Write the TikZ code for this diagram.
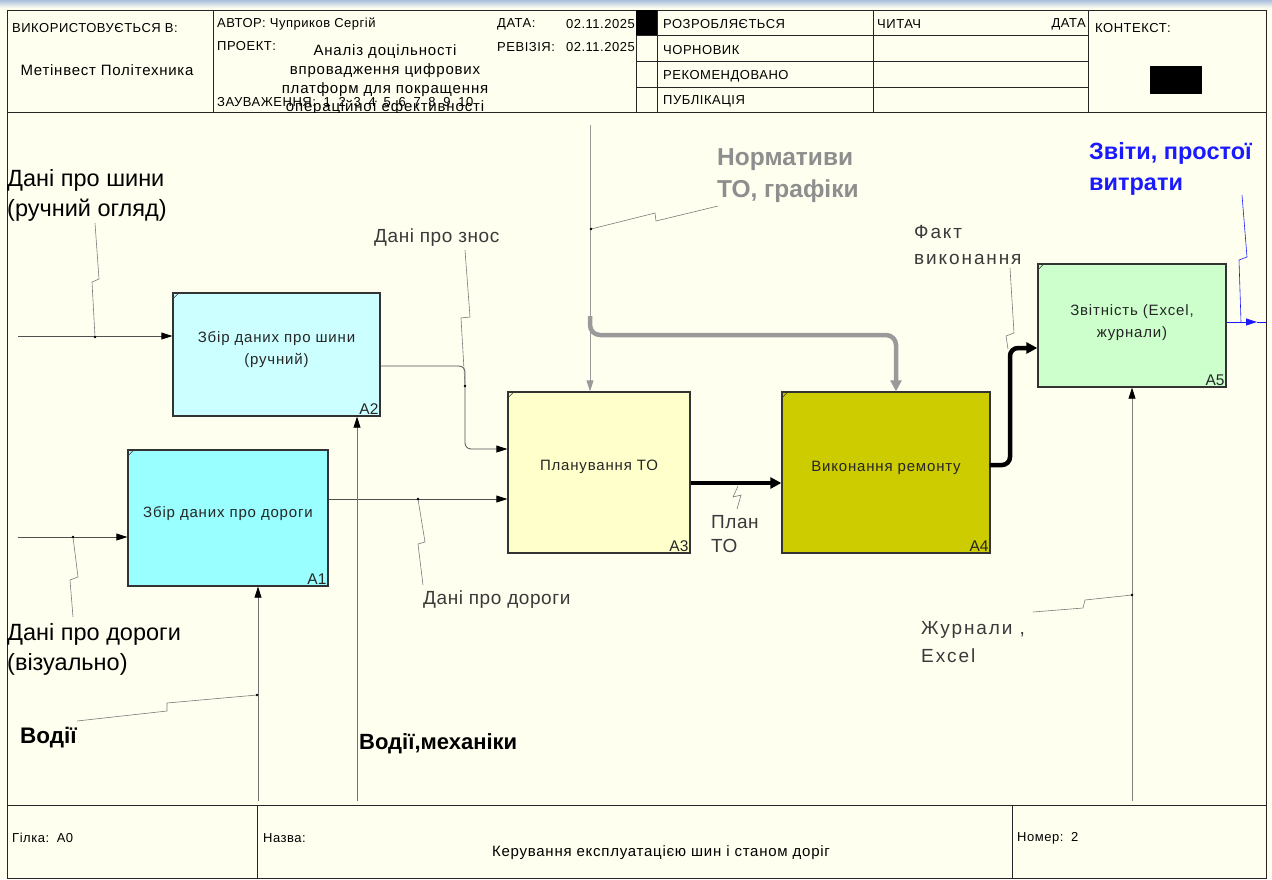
\documentclass[tikz,border=0pt]{standalone}
\usepackage{fontspec}
\setmainfont{Liberation Sans}
\usetikzlibrary{arrows.meta}
\definecolor{bgc}{HTML}{FFFFF0}
\definecolor{ca1}{HTML}{99FFFF}
\definecolor{ca2}{HTML}{CCFFFF}
\definecolor{ca3}{HTML}{FFFFCC}
\definecolor{ca4}{HTML}{CCCC00}
\definecolor{ca5}{HTML}{CCFFCC}
\definecolor{lbl}{HTML}{3A3A3A}
\definecolor{ctl}{HTML}{9A9A9A}
\definecolor{ctltxt}{HTML}{8E8E8E}
\definecolor{sq}{HTML}{7A7A7A}
\definecolor{ln}{HTML}{505050}
\definecolor{rep}{HTML}{1A1AFF}
\definecolor{chrome}{HTML}{A9BEDC}
\tikzset{
  frame/.style={draw=black!85, line width=1pt},
  box/.style={draw=black!80, line width=1.3pt, inner sep=0pt},
  boxtxt/.style={font=\fontsize{15}{22}\selectfont\addfontfeature{LetterSpace=5.5}, text=black!85, align=center, inner sep=0pt},
  boxid/.style={font=\fontsize{15.5}{15.5}\selectfont, text=black!85, anchor=south east, inner sep=2pt},
  hdr/.style={font=\fontsize{13}{14}\selectfont\addfontfeature{LetterSpace=4}, anchor=west, inner sep=0pt},
  biglbl/.style={font=\fontsize{23.5}{30}\selectfont, align=left, anchor=west, inner sep=0pt},
  smlbl/.style={font=\fontsize{19}{25}\selectfont\addfontfeature{LetterSpace=3}, text=lbl, align=left, anchor=west, inner sep=0pt},
  arr/.style={draw=ln, line width=0.8pt, -{Triangle[length=11pt,width=7pt,color=black]}},
  ctlarr/.style={draw=ctl, line width=0.8pt, -{Triangle[length=11pt,width=7pt,color=ctl]}},
  thickarr/.style={draw=black, line width=4.5pt, rounded corners=8pt, -{Triangle[length=11pt,width=11pt]}},
  thickctl/.style={draw=ctl, line width=4.5pt, rounded corners=10pt, -{Triangle[length=11pt,width=11pt]}},
  squig/.style={draw=sq, line width=0.6pt},
  dot/.style={fill=black},
  corner/.style={draw=black!80, line width=0.6pt}
}
\begin{document}
\begin{tikzpicture}[x=1pt,y=-1pt]
\useasboundingbox (0,0) rectangle (1272,879);
\fill[bgc] (0,0) rectangle (1272,879);
\shade[top color=chrome, bottom color=bgc] (0,0) rectangle (1272,8);

% ---------- frame ----------
\draw[frame] (7,10) rectangle (1266,878);
\draw[frame] (7,112) -- (1266,112);
\draw[frame] (213,10) -- (213,112);
\draw[frame] (636,10) -- (636,112);
\draw[frame] (657,10) -- (657,112);
\draw[frame] (873,10) -- (873,112);
\draw[frame] (1088,10) -- (1088,112);
\foreach \yy in {35,61,87} \draw[frame] (636,\yy) -- (1088,\yy);
\fill[black] (636,10) rectangle (657,35);
\fill[black] (1150,66) rectangle (1202,94);
\draw[frame] (7,805) -- (1266,805);
\draw[frame] (257,805) -- (257,878);
\draw[frame] (1012,805) -- (1012,878);

% ---------- header texts ----------
\node[hdr] (used) at (12,28) {ВИКОРИСТОВУЄТЬСЯ В:};
\node[hdr, anchor=center, font=\fontsize{15}{16}\selectfont\addfontfeature{LetterSpace=5}] (org) at (107,70) {Метінвест Політехника};
\node[hdr] (author) at (217,24) {АВТОР: Чуприков Сергій};
\node[hdr] (date) at (497,24) {ДАТА:};
\node[hdr, anchor=east] (dateval) at (635,24) {02.11.2025};
\node[hdr] (proj) at (217,46) {ПРОЕКТ:};
\node[hdr] (rev) at (497,47) {РЕВІЗІЯ:};
\node[hdr, anchor=east] (revval) at (635,47) {02.11.2025};
\begin{scope}
\clip (213,10) rectangle (636,112);
\node[hdr, anchor=center, align=center, font=\fontsize{15}{18.7}\selectfont\addfontfeature{LetterSpace=5.5}] (projname) at (385,80) {Аналіз доцільності\\впровадження цифрових\\платформ для покращення\\операційної ефективності};
\end{scope}
\node[hdr] (notes) at (217,102) {ЗАУВАЖЕННЯ:\; 1\; 2\; 3\; 4\; 5\; 6\; 7\; 8\; 9\; 10};
\node[hdr] (st1) at (663,24) {РОЗРОБЛЯЄТЬСЯ};
\node[hdr] (st2) at (663,50) {ЧОРНОВИК};
\node[hdr] (st3) at (663,76) {РЕКОМЕНДОВАНО};
\node[hdr] (st4) at (663,101) {ПУБЛІКАЦІЯ};
\node[hdr] (reader) at (877,24) {ЧИТАЧ};
\node[hdr, anchor=east] (rdate) at (1086,24) {ДАТА};
\node[hdr] (ctx) at (1095,28) {КОНТЕКСТ:};

% ---------- footer texts ----------
\node[hdr] (branch) at (12,838) {Гілка:\, A0};
\node[hdr] (name) at (263,838) {Назва:};
\node[hdr, anchor=center, font=\fontsize{15}{16}\selectfont\addfontfeature{LetterSpace=5}] (title) at (661,853) {Керування експлуатацією шин і станом доріг};
\node[hdr] (num) at (1017,838) {Номер:\, 2};

% ---------- boxes ----------
\node[box, fill=ca2, minimum width=207pt, minimum height=123pt] (A2) at (276.5,354.5) {};
\node[box, fill=ca1, minimum width=200pt, minimum height=136pt] (A1) at (228,518) {};
\node[box, fill=ca3, minimum width=182pt, minimum height=161pt] (A3) at (599,472.5) {};
\node[box, fill=ca4, minimum width=208pt, minimum height=161pt] (A4) at (886,472.5) {};
\node[box, fill=ca5, minimum width=188pt, minimum height=123pt] (A5) at (1132,325.5) {};
\foreach \b in {A1,A2,A3,A4,A5}{
  \draw[corner] ([xshift=1pt,yshift=-6pt]\b.north west) -- ([xshift=6pt,yshift=-1pt]\b.north west);
}
\node[boxtxt] (t2) at ([yshift=5pt]A2.center) {Збір даних про шини\\(ручний)};
\node[boxtxt] (t1) at ([yshift=4pt]A1.center) {Збір даних про дороги};
\node[boxtxt] (t3) at ([yshift=6pt]A3.center) {Планування ТО};
\node[boxtxt] (t4) at ([yshift=5pt]A4.center) {Виконання ремонту};
\node[boxtxt] (t5) at ([yshift=3pt]A5.center) {Звітність (Excel,\\журнали)};
\node[boxid] (id1) at (A1.south east) {A1};
\node[boxid] (id2) at (A2.south east) {A2};
\node[boxid] (id3) at (A3.south east) {A3};
\node[boxid] (id4) at (A4.south east) {A4};
\node[boxid] (id5) at (A5.south east) {A5};

% ---------- free ends ----------
\coordinate (inT) at (18,336);
\coordinate (inR) at (18,537);
\coordinate (ctlTop) at (590,125);
\coordinate (mA1) at (258,801);
\coordinate (mA2) at (357,801);
\coordinate (mA5) at (1132,801);
\coordinate (outTip) at (1257,322);
\coordinate (outEnd) at (1266,322);

% ---------- arrows ----------
\draw[arr] (inT) -- (inT -| A2.west);
\draw[arr] (inR) -- (inR -| A1.west);
\draw[arr] ([yshift=19pt]A1.east) -- ([yshift=-26.5pt]A3.west);
\draw[arr, rounded corners=6pt] ([yshift=-11.5pt]A2.east) -- (465,366) -- (465,449) -- ([yshift=23.5pt]A3.west);
\draw[ctlarr] (ctlTop) -- ([xshift=-9pt]A3.north);
\draw[thickctl] (590,316) -- (590,335) -- (896,335) -- ([xshift=10pt]A4.north);
\draw[thickarr] ([yshift=-10.5pt]A3.east) -- ([yshift=-10.5pt]A4.west);
\draw[thickarr] ([yshift=7.5pt,xshift=-1pt]A4.east) -- (1010,465) -- (1010,348) -- ([yshift=-22.5pt]A5.west);
\draw[draw=rep, line width=0.8pt, -{Triangle[length=11pt,width=7pt]}] ([yshift=3.5pt]A5.east) -- (outTip);
\draw[draw=rep, line width=0.8pt] (outTip) -- (outEnd);
\draw[arr, draw=black!55] (mA1) -- (mA1 |- A1.south);
\draw[arr, draw=black!55] (mA2) -- (mA2 |- A2.south);
\draw[arr, draw=black!50] (mA5) -- (mA5 |- A5.south);

% ---------- labels ----------
\node[biglbl] (lTyre) at (7,195.5) {Дані про шини\\(ручний огляд)};
\node[biglbl] (lRoad) at (7,649.5) {Дані про дороги\\(візуально)};
\node[biglbl, font=\bfseries\fontsize{22.5}{26}\selectfont] (lDrv) at (20,738) {Водії};
\node[biglbl, font=\bfseries\fontsize{22}{26}\selectfont] (lMech) at (359,744) {Водії,механіки};
\node[biglbl, font=\bfseries\fontsize{24.5}{32}\selectfont, text=ctltxt] (lNorm) at (717,176) {Нормативи\\ТО, графіки};
\node[biglbl, font=\bfseries\fontsize{23.5}{31}\selectfont, text=rep] (lRep) at (1089,168.5) {Звіти, простої\\витрати};
\node[smlbl] (lWear) at (374,238) {Дані про знос};
\node[smlbl] (lRoadD) at (423,600) {Дані про дороги};
\node[smlbl, font=\fontsize{19}{26}\selectfont\addfontfeature{LetterSpace=10}] (lFact) at (914,245) {Факт\\виконання};
\node[smlbl, font=\fontsize{19}{24}\selectfont\addfontfeature{LetterSpace=3}] (lPlan) at (711,534) {План\\ТО};
\node[smlbl, font=\fontsize{19}{28}\selectfont\addfontfeature{LetterSpace=10}] (lLog) at (921,642) {Журнали ,\\Excel};

% ---------- squiggles ----------
\draw[squig] (95,337) -- (92,282) -- (99,279) -- (95,223);
\draw[squig] (73,537) -- (78,577) -- (70,580) -- (73,617);
\draw[squig] (418,499) -- (425,542) -- (418,544) -- (423,585);
\draw[squig] (465,386) -- (461,318) -- (470,317) -- (465,250);
\draw[squig] (591,229) -- (655,213) -- (656,221) -- (718,206);
\draw[squig] (738,486) -- (733,497) -- (741,495) -- (737,509);
\draw[squig] (1008,349) -- (1006,336) -- (1014,333) -- (1010,268);
\draw[squig, draw=rep] (1241,322) -- (1239,260) -- (1247,257) -- (1242,195);
\draw[squig] (257,695) -- (167,703) -- (167,711) -- (77,721);
\draw[squig] (1132,595) -- (1085,600) -- (1083,608) -- (1033,612);
\foreach \p in {(95,337),(73,537),(418,499),(465,386),(591,229),(257,695),(1132,595)}
  \fill[dot] \p circle (1.4pt);
\end{tikzpicture}
\end{document}
